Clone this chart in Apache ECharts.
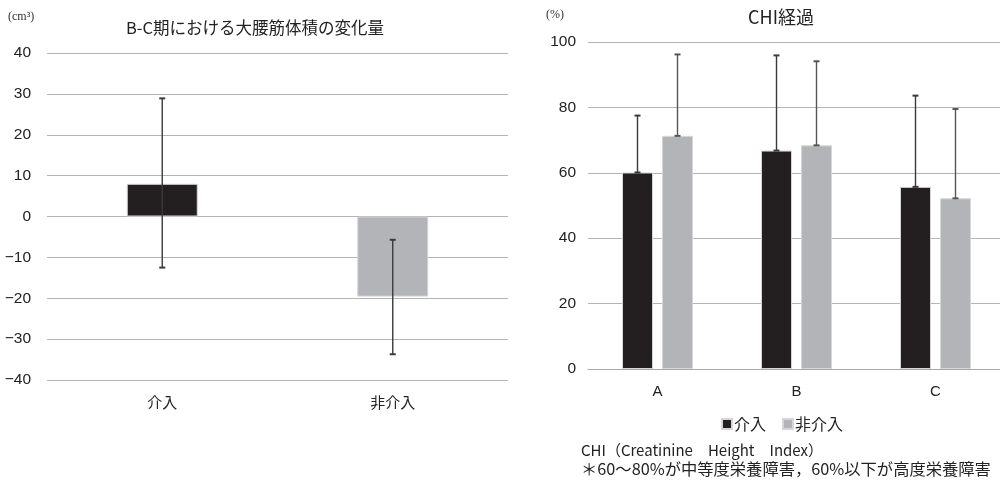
<!DOCTYPE html>
<html>
<head>
<meta charset="utf-8">
<script src="https://cdn.jsdelivr.net/npm/echarts@6/dist/echarts.min.js"></script>
<style>
  html, body { margin: 0; padding: 0; background: #fff; }
  #chart { width: 1000px; height: 486px; }
</style>
</head>
<body>
<div id="chart"></div>
<script>
// Psoas volume change between periods B and C (cm³)
const volumeGroups = ['介入', '非介入'];
const volumeMeans = [8.0, -19.6];
const volumeLow = [-12.5, -33.7];
const volumeHigh = [28.9, -5.7];
const volumeTicks = [-40, -30, -20, -10, 0, 10, 20, 30, 40];

// CHI over time (%)
const chiPeriods = ['A', 'B', 'C'];
const chiIntervention = [60.1, 66.8, 55.7];
const chiInterventionHigh = [77.5, 95.9, 83.6];
const chiControl = [71.3, 68.4, 52.2];
const chiControlHigh = [96.2, 94.1, 79.5];
const chiTicks = [0, 20, 40, 60, 80, 100];

const seriesNames = ['介入', '非介入'];
const DARK = '#231f20';
const GRAY = '#b3b4b7';
const FONT = '"Noto Sans CJK JP", "Noto Sans", sans-serif';
const NUM_FONT = '"Liberation Sans", Arial, sans-serif';

const chart = echarts.init(document.getElementById('chart'), null, { renderer: 'canvas' });

// whisker drawn between two values at a category, shifted sideways by px
function whisker(offsetPx, color, capHalf) {
  return function (params, api) {
    const c = api.value(0);
    const lo = api.coord([c, api.value(1)]);
    const hi = api.coord([c, api.value(2)]);
    const x = lo[0] + offsetPx;
    const style = { stroke: color, lineWidth: 1.4 };
    return {
      type: 'group',
      children: [
        { type: 'line', shape: { x1: x, y1: lo[1], x2: x, y2: hi[1] }, style },
        { type: 'line', shape: { x1: x - capHalf, y1: hi[1], x2: x + capHalf, y2: hi[1] }, style: { stroke: color, lineWidth: 2 } },
        { type: 'line', shape: { x1: x - capHalf, y1: lo[1], x2: x + capHalf, y2: lo[1] }, style: { stroke: color, lineWidth: 2 } }
      ]
    };
  };
}

const splitLine = { show: true, lineStyle: { color: '#b4b4b4', width: 1 } };

const option = {
  backgroundColor: '#fff',
  animation: false,
  textStyle: { fontFamily: FONT },
  title: [
    { text: 'B-C期における大腰筋体積の変化量', left: 250, top: 14, textAlign: 'center',
      textStyle: { fontSize: 16.5, fontWeight: 'normal', color: '#222', fontFamily: FONT } },
    { text: 'CHI経過', left: 776, top: 3, textAlign: 'center',
      textStyle: { fontSize: 18, fontWeight: 'normal', color: '#222', fontFamily: FONT } }
  ],
  legend: {
    data: seriesNames.map(n => ({ name: n, icon: 'rect' })),
    left: 716, top: 411,
    itemWidth: 10, itemHeight: 10, itemGap: 16,
    textStyle: { fontSize: 16, color: '#222', fontFamily: FONT, padding: [0, 0, 0, -3] }
  },
  graphic: [
    { type: 'text', left: 8, top: 11, style: { text: '(cm³)', fontSize: 12, fill: '#333', fontFamily: '"Liberation Serif", serif' } },
    { type: 'text', left: 546, top: 9, style: { text: '(%)', fontSize: 12, fill: '#333', fontFamily: '"Liberation Serif", serif' } },
    { type: 'text', left: 581, top: 443, style: { text: 'CHI（Creatinine　Height　Index）', fontSize: 15, fill: '#222', fontFamily: FONT } },
    { type: 'text', left: 581, top: 461, style: { text: '＊60～80%が中等度栄養障害，60%以下が高度栄養障害', fontSize: 16.3, fill: '#222', fontFamily: FONT } }
  ],
  grid: [
    { left: 47, top: 53, width: 461, height: 327, outerBoundsMode: 'none' },
    { left: 588, top: 42, width: 417, height: 327, outerBoundsMode: 'none' }
  ],
  xAxis: [
    { type: 'category', gridIndex: 0, data: volumeGroups,
      axisLine: { show: false, onZero: false }, axisTick: { show: false },
      axisLabel: { margin: 15, fontSize: 15, color: '#222', fontFamily: FONT } },
    { type: 'category', gridIndex: 1, data: chiPeriods,
      axisLine: { show: true, lineStyle: { color: '#a8a8a8' } }, axisTick: { show: false },
      axisLabel: { margin: 15, fontSize: 15, color: '#222', fontFamily: NUM_FONT } }
  ],
  yAxis: [
    { type: 'value', gridIndex: 0, min: volumeTicks[0], max: volumeTicks[volumeTicks.length - 1], interval: 10,
      axisLine: { show: false }, axisTick: { show: false }, splitLine,
      axisLabel: { margin: 16, fontSize: 15.5, color: '#222', fontFamily: NUM_FONT,
        formatter: v => String(v).replace('-', '−') } },
    { type: 'value', gridIndex: 1, min: chiTicks[0], max: chiTicks[chiTicks.length - 1], interval: 20,
      axisLine: { show: false }, axisTick: { show: false }, splitLine,
      axisLabel: { margin: 12, fontSize: 15.5, color: '#222', fontFamily: NUM_FONT } }
  ],
  series: [
    {
      type: 'bar', xAxisIndex: 0, yAxisIndex: 0, barWidth: 71,
      data: volumeMeans.map((v, i) => ({
        value: v,
        itemStyle: { color: i === 0 ? DARK : GRAY, borderColor: '#d6d6d6', borderWidth: 1 }
      }))
    },
    {
      type: 'custom', xAxisIndex: 0, yAxisIndex: 0, z: 5,
      renderItem: whisker(0, '#3a3a3a', 3),
      data: volumeGroups.map((g, i) => [i, volumeLow[i], volumeHigh[i]])
    },
    {
      name: seriesNames[0], type: 'bar', xAxisIndex: 1, yAxisIndex: 1,
      barWidth: 31, barGap: '29%', data: chiIntervention,
      itemStyle: { color: DARK, borderColor: '#d6d6d6', borderWidth: 1 }
    },
    {
      name: seriesNames[1], type: 'bar', xAxisIndex: 1, yAxisIndex: 1,
      barWidth: 31, barGap: '29%', data: chiControl,
      itemStyle: { color: GRAY, borderColor: '#d6d6d6', borderWidth: 1 }
    },
    {
      type: 'custom', xAxisIndex: 1, yAxisIndex: 1, z: 5,
      renderItem: whisker(-20, '#3a3a3a', 3),
      data: chiPeriods.map((p, i) => [i, chiIntervention[i], chiInterventionHigh[i]])
    },
    {
      type: 'custom', xAxisIndex: 1, yAxisIndex: 1, z: 5,
      renderItem: whisker(20, '#555', 3),
      data: chiPeriods.map((p, i) => [i, chiControl[i], chiControlHigh[i]])
    }
  ]
};

chart.setOption(option);
</script>
</body>
</html>
